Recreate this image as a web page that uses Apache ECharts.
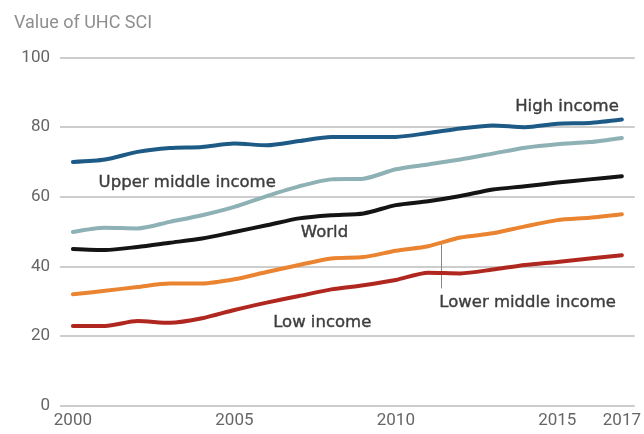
<!DOCTYPE html>
<html>
<head>
<meta charset="utf-8">
<script src="https://cdn.jsdelivr.net/npm/echarts@6/dist/echarts.min.js"></script>
<style>html,body{margin:0;padding:0;background:#fff}#c{width:644px;height:434px}</style>
</head>
<body>
<div id="c"></div>
<script>
const years = [2000,2001,2002,2003,2004,2005,2006,2007,2008,2009,2010,2011,2012,2013,2014,2015,2016,2017];
const highIncome  = [70.0,70.7,72.9,74.0,74.3,75.3,74.8,76.0,77.2,77.2,77.2,78.3,79.6,80.5,80.0,81.0,81.2,82.2];
const upperMiddle = [49.9,51.1,50.9,52.8,54.7,57.1,60.2,63.0,65.0,65.2,67.9,69.3,70.7,72.4,74.1,75.1,75.7,76.9];
const world       = [45.0,44.7,45.6,46.8,48.0,49.9,51.8,53.8,54.7,55.2,57.6,58.7,60.2,62.1,63.0,64.1,65.0,65.9];
const lowerMiddle = [32.0,33.0,34.1,35.1,35.1,36.3,38.4,40.4,42.3,42.7,44.5,45.8,48.3,49.5,51.5,53.3,54.0,55.0];
const lowIncome   = [22.9,22.9,24.3,23.8,25.1,27.5,29.6,31.5,33.4,34.6,36.1,38.2,38.0,39.1,40.4,41.3,42.3,43.2];
const xTickLabels = [2000,2005,2010,2015,2017];
const seriesNames = ['High income','Upper middle income','World','Lower middle income','Low income'];
const seriesColors = ['#1d5b86','#8db1b4','#141414','#ea8430','#b0271f'];
const labelPos = [[2015.3,86.0],[2003.54,63.9],[2007.79,49.8],[2014.08,29.7],[2007.72,23.7]];
const leader = [[2011.4,47.3],[2011.4,33.7]];

const allData = [highIncome, upperMiddle, world, lowerMiddle, lowIncome];
const font = 'Roboto, "Liberation Sans", Arial, sans-serif';
const labelFont = '"DejaVu Sans", sans-serif';

const chart = echarts.init(document.getElementById('c'), null, {renderer:'canvas'});
const series = allData.map((vals, i) => {
  const s = {
    name: seriesNames[i],
    type: 'line',
    data: years.map((y, k) => [y, vals[k]]),
    showSymbol: false,
    smooth: 0.25,
    z: 10 - i,
    lineStyle: {color: seriesColors[i], width: 4, cap: 'round', join: 'round'},
    itemStyle: {color: seriesColors[i]},
    emphasis: {disabled: true},
    markPoint: {
      symbol: 'circle', symbolSize: 0, silent: true,
      data: [{coord: labelPos[i], value: seriesNames[i]}],
      label: {show: true, position: 'inside', formatter: seriesNames[i],
        color: '#3d3d3d', fontFamily: labelFont, fontSize: 16.5, fontWeight: 'normal',
        textBorderColor: '#3d3d3d', textBorderWidth: 0.4}
    }
  };
  if (i === 3) {
    s.markLine = {
      silent: true, symbol: ['none','none'],
      lineStyle: {color: '#888', width: 1, type: 'solid'},
      label: {show: false},
      data: [[{coord: leader[0]}, {coord: leader[1]}]]
    };
  }
  return s;
});

chart.setOption({
  animation: false,
  backgroundColor: '#fff',
  title: {
    text: 'Value of UHC SCI', left: 9, top: 9,
    textStyle: {color: '#8e8e8e', fontFamily: font, fontSize: 18, fontWeight: 'normal'}
  },
  grid: {left: 60, right: 9, top: 57.5, bottom: 28.3},
  xAxis: {
    type: 'value', min: 1999.6, max: 2017.4,
    axisLine: {show: false}, axisTick: {show: false}, splitLine: {show: false},
    axisLabel: {customValues: xTickLabels, color: '#666', fontFamily: font, fontSize: 17, margin: 7,
      formatter: v => String(v)}
  },
  yAxis: {
    type: 'value', min: 0, max: 100, interval: 20,
    axisLine: {show: false}, axisTick: {show: false},
    splitLine: {show: true, lineStyle: {color: '#cdcdcd', width: 2}},
    axisLabel: {color: '#666', fontFamily: font, fontSize: 17, margin: 10}
  },
  series: series
});
</script>
</body>
</html>
